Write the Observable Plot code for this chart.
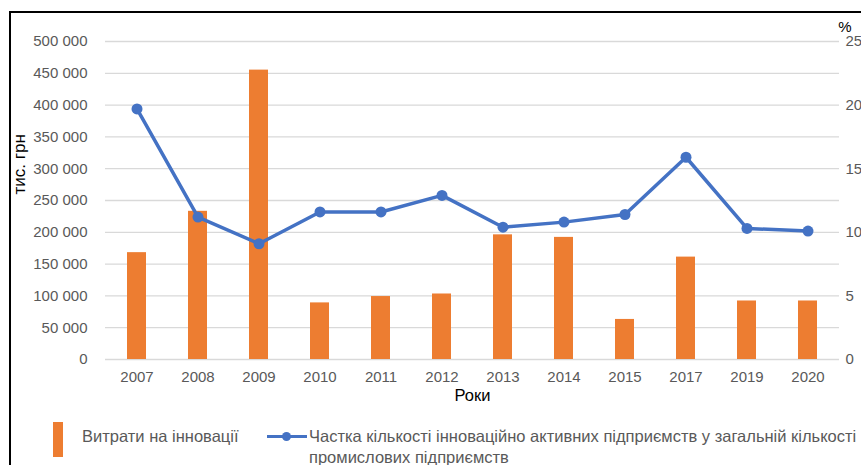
<!DOCTYPE html>
<html>
<head>
<meta charset="utf-8">
<script src="https://cdn.jsdelivr.net/npm/d3@7"></script>
<script src="https://cdn.jsdelivr.net/npm/@observablehq/plot@0.6"></script>
<style>
  html, body { margin: 0; padding: 0; background: #fff; width: 861px; height: 465px; overflow: hidden; position: relative; font-family: "Liberation Sans", Arial, sans-serif; }
  #chart { position: absolute; left: 0; top: 0; }
  #frame { position: absolute; left: 9px; top: 11px; width: 900px; height: 500px; border-left: 2px solid #000; border-top: 2px solid #000; pointer-events: none; }
  .leg { position: absolute; font-size: 16.5px; color: #595959; white-space: nowrap; }
</style>
</head>
<body>
<div id="chart"></div>
<div id="frame"></div>
<div id="legend"></div>
<script>
const years = ["2007", "2008", "2009", "2010", "2011", "2012", "2013", "2014", "2015", "2017", "2019", "2020"];
const spending = [168000, 233000, 455000, 89000, 99000, 103000, 196000, 192000, 63000, 161000, 92000, 92000];
const share = [19.7, 11.2, 9.1, 11.6, 11.6, 12.9, 10.4, 10.8, 11.4, 15.9, 10.3, 10.1];
const leftTicks = [0, 50000, 100000, 150000, 200000, 250000, 300000, 350000, 400000, 450000, 500000];
const rightTicks = [0, 5, 10, 15, 20, 25];
const seriesNames = ["Витрати на інновації", "Частка кількості інноваційно активних підприємств у загальній кількості", "промислових підприємств"];
const yLabel = "тис. грн";
const xLabel = "Роки";
const y2Label = "%";

const barColor = "#ED7D31";
const lineColor = "#4472C4";
const ratio = 500000 / 25;

const data = years.map((y, i) => ({year: y, spending: spending[i], share: share[i]}));
const fmt = d => d3.format(",")(d).replace(/,/g, " ");

const chart = Plot.plot({
  width: 861,
  height: 410,
  marginLeft: 105,
  marginRight: 22,
  marginTop: 41,
  marginBottom: 51,
  style: {fontFamily: "'Liberation Sans', Arial, sans-serif", fontSize: "15px", color: "#595959", background: "transparent", overflow: "visible"},
  x: {type: "band", domain: years, padding: 0, label: null},
  y: {domain: [0, 500000], label: null},
  marks: [
    Plot.ruleY(leftTicks, {stroke: "#d9d9d9", strokeWidth: 1.3}),
    Plot.axisY({ticks: leftTicks, tickFormat: fmt, tickSize: 0, tickPadding: 18, anchor: "left", label: null}),
    Plot.axisY({ticks: rightTicks.map(v => v * ratio), tickFormat: d => d / ratio, tickSize: 0, tickPadding: 6, anchor: "right", label: null}),
    Plot.axisX({tickSize: 0, tickPadding: 12, label: null}),
    Plot.barY(data, {x: "year", y: "spending", fill: barColor, insetLeft: 21, insetRight: 21}),
    Plot.line(data, {x: "year", y: d => d.share * ratio, stroke: lineColor, strokeWidth: 3.5}),
    Plot.dot(data, {x: "year", y: d => d.share * ratio, r: 5.5, fill: lineColor}),
    Plot.text([xLabel], {frameAnchor: "bottom", dy: 41, fill: "#000", fontSize: 16.5}),
    Plot.text([yLabel], {frameAnchor: "left", dx: -86, dy: -6, rotate: -90, fill: "#000", fontSize: 17}),
    Plot.text([y2Label], {frameAnchor: "top-right", dx: 12, dy: -20, fill: "#000", fontSize: 15})
  ]
});
document.getElementById("chart").appendChild(chart);

const legend = document.getElementById("legend");
legend.innerHTML = `
  <div style="position:absolute;left:53px;top:422px;width:10px;height:35px;background:${barColor}"></div>
  <div class="leg" style="left:82px;top:426px;line-height:21px">${seriesNames[0]}</div>
  <div style="position:absolute;left:267px;top:435px;width:40px;height:3px;background:${lineColor}"></div>
  <div style="position:absolute;left:282px;top:432px;width:9px;height:9px;border-radius:50%;background:${lineColor}"></div>
  <div class="leg" style="left:309px;top:426px;line-height:21px">${seriesNames[1]}<br>${seriesNames[2]}</div>
`;
</script>
</body>
</html>
